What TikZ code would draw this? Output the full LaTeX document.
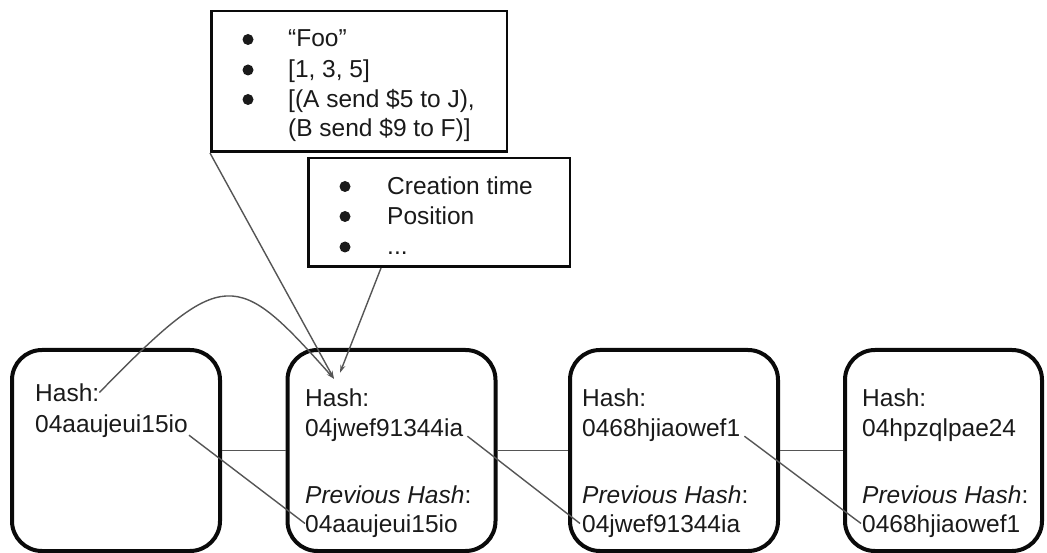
\documentclass[tikz,border=0pt]{standalone}
\usepackage{fontspec}
\setmainfont{Liberation Sans}
\usetikzlibrary{arrows.meta,calc}

\definecolor{inkline}{HTML}{555555}
\definecolor{inktext}{HTML}{1A1A1A}
\definecolor{inkbox}{HTML}{0A0A0A}

\tikzset{
  blockbox/.style={draw=inkbox, line width=4pt, rounded corners=30pt,
    minimum width=208pt, minimum height=201pt, inner sep=0pt},
  listbox/.style={draw=inkbox, line width=2.5pt, inner sep=0pt},
  txt/.style={anchor=base west, inner sep=0pt, text height=17pt, text depth=0pt,
    font=\fontsize{24.5}{30}\selectfont, text=inktext},
  bulletdot/.style={circle, fill=inktext, inner sep=0pt, minimum size=11pt},
  link/.style={draw=inkline, line width=1.4pt},
  arr/.style={link, -{Stealth[length=8pt,width=5pt]}}
}

\begin{document}
\begin{tikzpicture}[x=1pt,y=-1pt]
  \useasboundingbox[fill=white] (0,0) rectangle (1047,553);

  % chain of blocks
  \node[blockbox] (b1) at (116,450.5) {};
  \node[blockbox] (b2) at (391.5,450.5) {};
  \node[blockbox] (b3) at (674,450.5) {};
  \node[blockbox, minimum width=197pt] (b4) at (943.5,450.5) {};

  % links between neighbouring blocks
  \draw[link] (b1.east) -- (b2.west);
  \draw[link] (b2.east) -- (b3.west);
  \draw[link] (b3.east) -- (b4.west);

  % block contents
  \node[txt] (h1)  at (35,401) {Hash:};
  \node[txt] (hv1) at (35,432) {04aaujeui15io};

  \node[txt] (h2)  at (305,406) {Hash:};
  \node[txt] (hv2) at (305,436) {04jwef91344ia};
  \node[txt] (p2)  at (305,503) {\textit{Previous Hash}:};
  \node[txt] (pv2) at (305,532) {04aaujeui15io};

  \node[txt] (h3)  at (582,406) {Hash:};
  \node[txt] (hv3) at (582,436) {0468hjiaowef1};
  \node[txt] (p3)  at (582,503) {\textit{Previous Hash}:};
  \node[txt] (pv3) at (582,532) {04jwef91344ia};

  \node[txt] (h4)  at (862,406) {Hash:};
  \node[txt] (hv4) at (862,436) {04hpzqlpae24};
  \node[txt] (p4)  at (862,503) {\textit{Previous Hash}:};
  \node[txt] (pv4) at (862,532) {0468hjiaowef1};

  % hash of each block copied into the next one
  \draw[link] ([xshift=1pt,yshift=-3pt]hv1.south east) -- (pv2.west);
  \draw[link] ([xshift=4pt]hv2.south east) -- ([xshift=-2pt]pv3.west);
  \draw[link] ([xshift=4pt]hv3.south east) -- ([xshift=-1pt]pv4.west);

  % data box
  \node[listbox, minimum width=295.5pt, minimum height=140.5pt] (data) at (359,81.5) {};
  \node[bulletdot] (d1) at (248,39.5) {};
  \node[bulletdot] (d2) at (248,70) {};
  \node[bulletdot] (d3) at (248,99.5) {};
  \node[txt] (l1) at (288,47)  {“Foo”};
  \node[txt] (l2) at (288,78)  {[1, 3, 5]};
  \node[txt] (l3) at (288,108) {[(A send \$5 to J),};
  \node[txt] (l4) at (288,137) {(B send \$9 to F)]};

  % metadata box
  \node[listbox, minimum width=261.5pt, minimum height=108.5pt] (meta) at (439,212.5) {};
  \node[bulletdot] (m1) at (345,186.5) {};
  \node[bulletdot] (m2) at (345,216.5) {};
  \node[bulletdot] (m3) at (345,247) {};
  \node[txt] (k1) at (387,195) {Creation time};
  \node[txt] (k2) at (387,225) {Position};
  \node[txt] (k3) at (387,255) {...};

  % inputs hashed into the second block
  \coordinate (t1) at ([shift={(29pt,10pt)}]h2.north west);
  \coordinate (t2) at ([shift={(35pt,16pt)}]h2.north west);
  \draw[arr] (h1.east) .. controls +(125,-128) and +(-98,-110) .. (t1);
  \draw[arr] (data.south west) -- (t1);
  \draw[arr] ([xshift=74pt]meta.south west) -- (t2);
\end{tikzpicture}
\end{document}
